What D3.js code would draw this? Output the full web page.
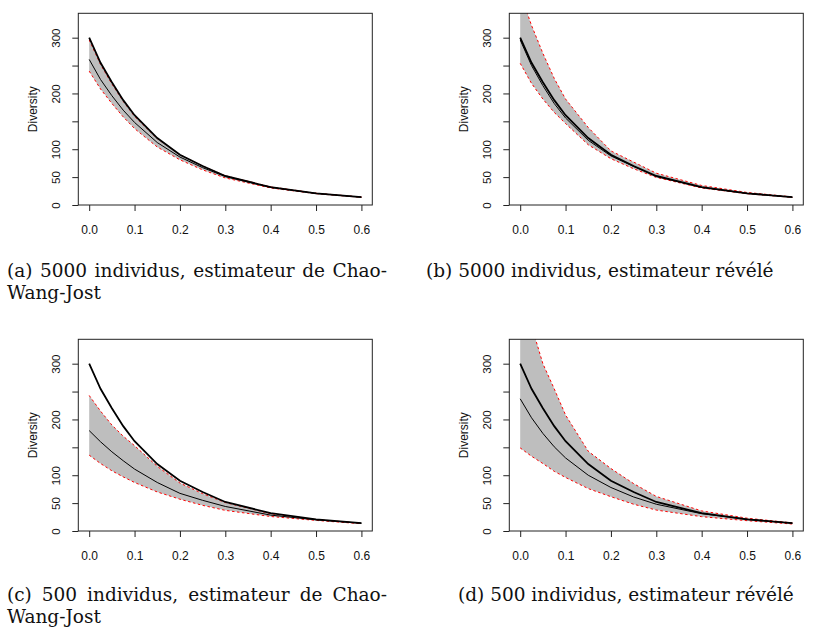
<!DOCTYPE html>
<html>
<head>
<meta charset="utf-8">
<script src="https://cdn.jsdelivr.net/npm/d3@7"></script>
<style>
  html, body { margin: 0; padding: 0; background: #fff; }
  svg { display: block; }
</style>
</head>
<body>
<svg id="chart" width="813" height="630"></svg>
<script>
// ---------------- data ----------------
const q = [0, 0.025, 0.05, 0.075, 0.1, 0.15, 0.2, 0.25, 0.3, 0.4, 0.5, 0.6];
const xTicks = [0, 0.1, 0.2, 0.3, 0.4, 0.5, 0.6];
const yTicks = [0, 50, 100, 150, 200, 250, 300];
const yTickLabels = ["0", "50", "100", "", "200", "", "300"];

// true (reference) diversity, same in all panels
const trueDiv = [300, 255, 220, 188, 161, 120, 90, 70, 52, 32, 21, 14];

// (a) 5000 individus, Chao-Wang-Jost
const meanA = [261, 225, 196, 170, 148, 112, 86, 67, 51, 31.5, 20.8, 14];
const lowA  = [240, 208, 182, 158, 137, 104, 81, 63, 48.5, 30.5, 20.3, 13.7];
const highA = [296, 252, 217, 186, 159, 119, 90, 70, 52.5, 32.5, 21.2, 14.3];

// (b) 5000 individus, estimateur révélé
const meanB = [296, 250, 214, 182, 156, 116, 88, 69, 51, 31.5, 20.8, 14];
const lowB  = [254, 218, 190, 166, 146, 108, 83, 65, 49.5, 30.5, 20.2, 13.6];
const highB = [380, 322, 272, 227, 190, 139, 97, 77, 57, 35, 22.5, 14.5];

// (c) 500 individus, Chao-Wang-Jost
const meanC = [180, 160, 142, 126, 111, 87, 67.5, 55, 44, 28.5, 20, 14];
const lowC  = [136, 121, 108, 97, 87, 70, 57, 46, 37, 26, 19, 13];
const highC = [243, 215, 190, 170, 153, 116, 86, 67, 51, 31, 20.5, 14];

// (d) 500 individus, estimateur révélé
const meanD = [237, 203, 175, 151, 131, 100, 78, 61, 48, 31, 21, 14];
const lowD  = [149, 134, 121, 107, 96, 76, 61.5, 48, 37.5, 25.7, 18.5, 12.5];
const highD = [470, 368, 300, 255, 208, 143, 112, 85, 62, 36, 23, 14.5];

const captions = [
  ["(a) 5000 individus, estimateur de Chao-", "Wang-Jost"],
  ["(b) 5000 individus, estimateur révélé"],
  ["(c) 500 individus, estimateur de Chao-", "Wang-Jost"],
  ["(d) 500 individus, estimateur révélé"]
];

// ---------------- layout ----------------
const svg = d3.select("#chart");
const boxW = 294, boxH = 191.7;
const panels = [
  { x0: 78.3,  y0: 13.3,  mean: meanA, low: lowA, high: highA, cap: captions[0], capX: 7,   capY: 277, justify: true },
  { x0: 509.3, y0: 13.3,  mean: meanB, low: lowB, high: highB, cap: captions[1], capX: 426, capY: 277, justify: false },
  { x0: 78.3,  y0: 339.3, mean: meanC, low: lowC, high: highC, cap: captions[2], capX: 7,   capY: 601, justify: true },
  { x0: 509.3, y0: 339.3, mean: meanD, low: lowD, high: highD, cap: captions[3], capX: 458, capY: 601, justify: false }
];

const sans = "Liberation Sans, Arial, Helvetica, sans-serif";
const serif = "'DejaVu Serif', serif";

panels.forEach((p, i) => {
  const x = d3.scaleLinear().domain([-0.024, 0.624]).range([p.x0, p.x0 + boxW]);
  const y = d3.scaleLinear().domain([0, 343.7]).range([p.y0 + boxH, p.y0]);

  const clipId = "clip" + i;
  svg.append("clipPath").attr("id", clipId)
    .append("rect").attr("x", p.x0).attr("y", p.y0).attr("width", boxW).attr("height", boxH);

  const g = svg.append("g").attr("clip-path", `url(#${clipId})`);
  const rows = q.map((v, k) => ({ q: v, t: trueDiv[k], m: p.mean[k], lo: p.low[k], hi: p.high[k] }));

  g.append("path").datum(rows)
    .attr("d", d3.area().x(d => x(d.q)).y0(d => y(d.lo)).y1(d => y(d.hi)))
    .attr("fill", "#bebebe").attr("stroke", "none");

  ["lo", "hi"].forEach(key => {
    g.append("path").datum(rows)
      .attr("d", d3.line().x(d => x(d.q)).y(d => y(d[key])))
      .attr("fill", "none").attr("stroke", "#ff0000").attr("stroke-width", 1)
      .attr("stroke-dasharray", "2.5,2.5");
  });

  g.append("path").datum(rows)
    .attr("d", d3.line().x(d => x(d.q)).y(d => y(d.m)))
    .attr("fill", "none").attr("stroke", "#000").attr("stroke-width", 1);

  g.append("path").datum(rows)
    .attr("d", d3.line().x(d => x(d.q)).y(d => y(d.t)))
    .attr("fill", "none").attr("stroke", "#000").attr("stroke-width", 1.8);

  // box
  svg.append("rect").attr("x", p.x0).attr("y", p.y0).attr("width", boxW).attr("height", boxH)
    .attr("fill", "none").attr("stroke", "#222").attr("stroke-width", 1);

  // x axis
  const xa = svg.append("g").attr("transform", `translate(0,${p.y0 + boxH})`)
    .call(d3.axisBottom(x).tickValues(xTicks).tickFormat(d3.format(".1f")).tickSize(6).tickSizeOuter(0));
  xa.select(".domain").remove();
  xa.selectAll("line").attr("stroke", "#222");
  xa.selectAll("text").attr("y", 20).attr("dy", "0.71em")
    .attr("font-family", sans).attr("font-size", 12).attr("fill", "#111");

  // y axis
  const ya = svg.append("g").attr("transform", `translate(${p.x0},0)`)
    .call(d3.axisLeft(y).tickValues(yTicks).tickFormat((d, k) => yTickLabels[k]).tickSize(6).tickSizeOuter(0));
  ya.select(".domain").remove();
  ya.selectAll("line").attr("stroke", "#222");
  ya.selectAll("text")
    .attr("x", null).attr("dy", null)
    .attr("text-anchor", "middle")
    .attr("transform", "translate(-18,0) rotate(-90)")
    .attr("font-family", sans).attr("font-size", 11.5).attr("fill", "#111");

  svg.append("text")
    .attr("transform", `translate(${p.x0 - 46},${p.y0 + boxH / 2}) rotate(-90)`)
    .attr("text-anchor", "middle").attr("dy", "0.35em")
    .attr("font-family", sans).attr("font-size", 12).attr("fill", "#111")
    .text("Diversity");

  // caption
  p.cap.forEach((line, k) => {
    const t = svg.append("text")
      .attr("x", p.capX).attr("y", p.capY + k * 22)
      .attr("font-family", serif).attr("font-size", 18.5).attr("fill", "#111")
      .text(line);
    if (p.justify && k === 0) {
      const w = t.node().getComputedTextLength();
      const spaces = (line.match(/ /g) || []).length;
      const target = 380;
      t.attr("word-spacing", (target - w) / spaces);
    }
  });
});
</script>
</body>
</html>
